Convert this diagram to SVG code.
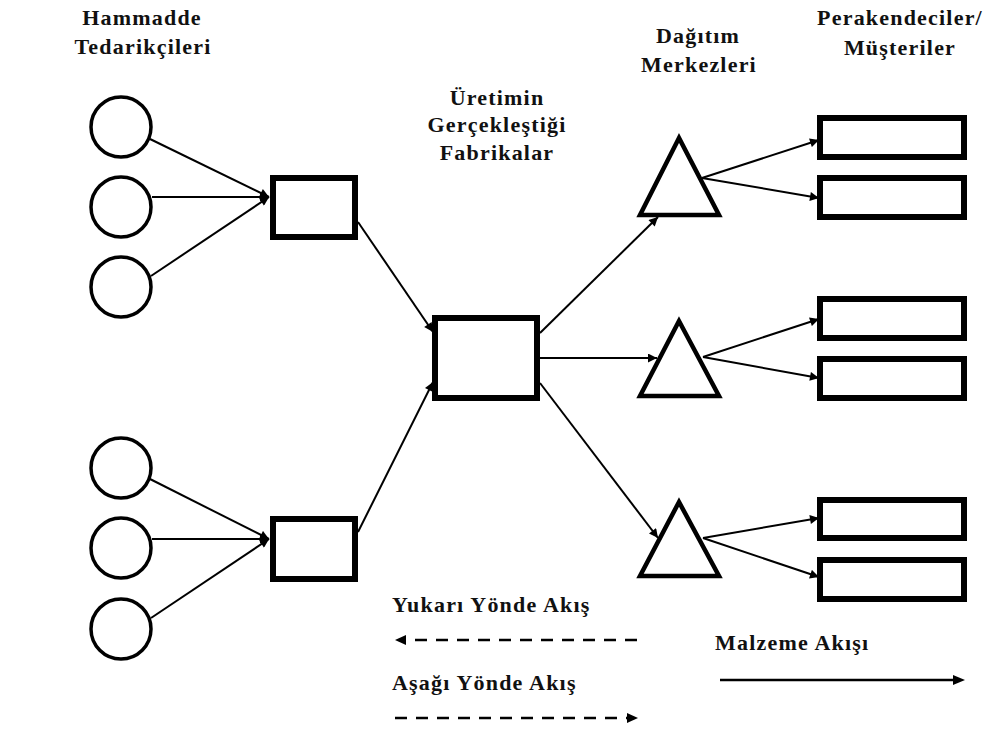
<svg xmlns="http://www.w3.org/2000/svg" width="991" height="736" viewBox="0 0 991 736">
<defs>
<marker id="ah" viewBox="0 0 10 10" refX="10" refY="5" markerWidth="11" markerHeight="9" markerUnits="userSpaceOnUse" orient="auto">
<path d="M0,0 L10,5 L0,10 z" fill="#000"/>
</marker>
<marker id="ahs" viewBox="0 0 10 10" refX="10" refY="5" markerWidth="12" markerHeight="11" markerUnits="userSpaceOnUse" orient="auto-start-reverse">
<path d="M0,0 L10,5 L0,10 z" fill="#000"/>
</marker>
</defs>
<style>
.t{font-family:"Liberation Serif","Times New Roman",serif;font-weight:bold;font-size:22px;letter-spacing:1.2px;fill:#111;text-anchor:middle}
.tl{font-family:"Liberation Serif","Times New Roman",serif;font-weight:bold;font-size:22px;letter-spacing:1.2px;fill:#111}
.c{fill:#fff;stroke:#000;stroke-width:3.5}
.b{fill:#fff;stroke:#000;stroke-width:6}
.r{fill:#fff;stroke:#000;stroke-width:6}
.tr{fill:#fff;stroke:#000;stroke-width:4.5;stroke-linejoin:miter}
.e{stroke:#000;stroke-width:2;fill:none;marker-end:url(#ah)}
.d{stroke:#000;stroke-width:2.5;fill:none;stroke-dasharray:12 9}
</style>
<rect width="991" height="736" fill="#fff"/>

<g id="labels">
<text class="t" x="142" y="25">Hammadde</text>
<text class="t" x="143" y="54">Tedarikçileri</text>
<text class="t" x="497" y="105">Üretimin</text>
<text class="t" x="497" y="132">Gerçekleştiği</text>
<text class="t" x="497" y="160">Fabrikalar</text>
<text class="t" x="698" y="43">Dağıtım</text>
<text class="t" x="699" y="72">Merkezleri</text>
<text class="t" x="900" y="25">Perakendeciler/</text>
<text class="t" x="900" y="55">Müşteriler</text>
</g>

<g id="connectors">
<line class="e" x1="150" y1="139" x2="269" y2="197"/>
<line class="e" x1="152" y1="197" x2="269" y2="197"/>
<line class="e" x1="151" y1="276" x2="269" y2="197"/>
<line class="e" x1="150" y1="479" x2="269" y2="539"/>
<line class="e" x1="152" y1="539" x2="269" y2="539"/>
<line class="e" x1="151" y1="618" x2="269" y2="539"/>
<line class="e" x1="358" y1="222" x2="433" y2="332"/>
<line class="e" x1="358" y1="532" x2="433" y2="382"/>
<line class="e" x1="540" y1="333" x2="658" y2="217"/>
<line class="e" x1="540" y1="358" x2="657" y2="358"/>
<line class="e" x1="540" y1="383" x2="658" y2="538"/>
<line class="e" x1="702" y1="178" x2="819" y2="140"/>
<line class="e" x1="702" y1="178" x2="819" y2="198"/>
<line class="e" x1="703" y1="357" x2="819" y2="319"/>
<line class="e" x1="703" y1="357" x2="819" y2="378"/>
<line class="e" x1="703" y1="538" x2="819" y2="518"/>
<line class="e" x1="703" y1="538" x2="819" y2="577"/>
</g>

<g id="suppliers">
<circle id="s1" class="c" cx="121" cy="127" r="30"/>
<circle id="s2" class="c" cx="121" cy="207" r="30"/>
<circle id="s3" class="c" cx="121" cy="287" r="30"/>
<circle id="s4" class="c" cx="121" cy="468" r="30"/>
<circle id="s5" class="c" cx="121" cy="548" r="30"/>
<circle id="s6" class="c" cx="121" cy="629" r="30"/>
</g>
<g id="plant1"><rect class="b" x="273" y="178" width="82" height="59"/></g>
<g id="plant2"><rect class="b" x="273" y="519" width="82" height="60"/></g>
<g id="factory"><rect class="b" x="435" y="318" width="102" height="80"/></g>
<g id="dc1"><polygon class="tr" points="679,138 640,215 719,215"/></g>
<g id="dc2"><polygon class="tr" points="679,321 640,396 719,396"/></g>
<g id="dc3"><polygon class="tr" points="679,502 640,576 719,576"/></g>
<g id="retail">
<rect class="r" x="820" y="118" width="144" height="39"/>
<rect class="r" x="820" y="178" width="144" height="39"/>
<rect class="r" x="820" y="299" width="144" height="39"/>
<rect class="r" x="820" y="359" width="144" height="39"/>
<rect class="r" x="820" y="500" width="144" height="38"/>
<rect class="r" x="820" y="560" width="144" height="39"/>
</g>

<g id="legend">
<text class="tl" x="392" y="612">Yukarı Yönde Akış</text>
<line class="d" x1="637" y1="640" x2="404" y2="640"/>
<path d="M395,640 L406,635 L406,645 z" fill="#000"/>
<text class="tl" x="392" y="690">Aşağı Yönde Akış</text>
<line class="d" x1="395" y1="718" x2="628" y2="718"/>
<path d="M638,718 L627,713 L627,723 z" fill="#000"/>
<text class="tl" x="715" y="650">Malzeme Akışı</text>
<line x1="720" y1="680" x2="955" y2="680" stroke="#000" stroke-width="2.5"/>
<path d="M965,680 L953,675 L953,685 z" fill="#000"/>
</g>
</svg>
